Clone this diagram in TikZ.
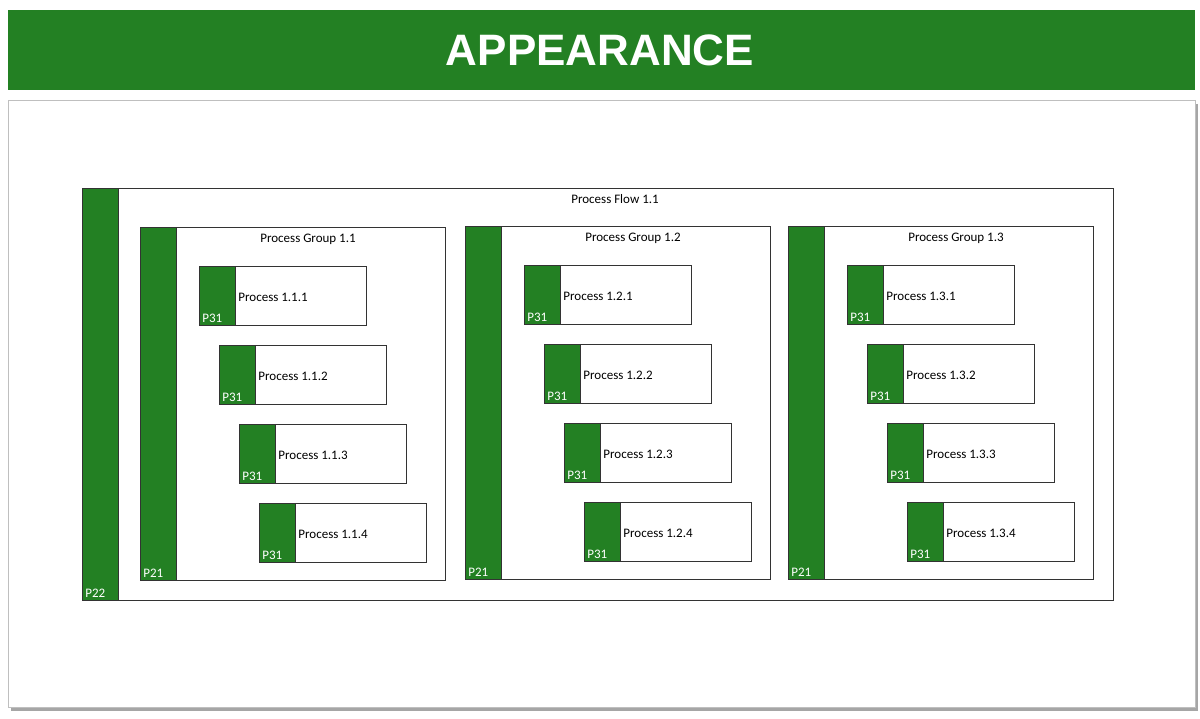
\documentclass[tikz,border=0pt]{standalone}
\usepackage{fontspec}
\setmainfont{Carlito}
\newfontfamily\titlefont{Liberation Sans}
\usetikzlibrary{positioning}
\definecolor{appgreen}{RGB}{35,128,35}
\begin{document}
\begin{tikzpicture}[x=0.5pt,y=-0.5pt,
        framebox/.style={draw=black!80, line width=0.5pt, fill=white, anchor=north west, inner sep=0pt},
        stripbox/.style={draw=black!80, line width=0.5pt, fill=appgreen, anchor=north west, inner sep=0pt, minimum width=18pt},
        tagtext/.style={text=white, font=\fontsize{6.5}{7}\selectfont, anchor=south west, inner sep=1.5pt},
        labeltext/.style={font=\fontsize{6.5}{7}\selectfont, inner sep=0pt},
        ]
        \useasboundingbox (0,0) rectangle (1200,718);
        \fill[white] (0,0) rectangle (1200,718);

        % Title bar
        \fill[appgreen] (8,10) rectangle (1195,90);
        \node[text=white, font=\titlefont\bfseries\fontsize{22}{24}\selectfont] (title) at (600,50) {APPEARANCE};

        % Panel
        \fill[black!35] (11,104) rectangle (1198,711);
        \draw[black!25, fill=white] (8,100) rectangle (1195,707);

        % Process flow
        \node[framebox, minimum width=515.5pt, minimum height=206pt] (flow) at (82,188) {};
        \node[stripbox, minimum height=206pt] (flowstrip) at (82,188) {};
        \node[tagtext] (p22) at (flowstrip.south west) {P22};
        \node[labeltext] (flowlabel) at (615,199) {Process Flow 1.1};

        % Process groups
        \foreach \g/\gx/\gy in {1/140/227, 2/465/226, 3/788/226} {
            \node[framebox, minimum width=152.5pt, minimum height=176.5pt] (group\g) at (\gx,\gy) {};
            \node[stripbox, minimum height=176.5pt] (gstrip\g) at (\gx,\gy) {};
            \node[tagtext] (p21\g) at (gstrip\g.south west) {P21};
            \node[labeltext] (glabel\g) at (\gx+168,\gy+12) {Process Group 1.\g};
            % Processes
            \foreach \p in {1,...,4} {
                \node[framebox, minimum width=83.5pt, minimum height=29.5pt] (proc\g\p) at (\gx+59+20*\p-20,\gy+39+79*\p-79) {};
                \node[stripbox, minimum height=29.5pt] (pstrip\g\p) at (proc\g\p.north west) {};
                \node[tagtext] (p31\g\p) at (pstrip\g\p.south west) {P31};
                \node[labeltext, anchor=west] (plabel\g\p) at ([xshift=1pt,yshift=-0.5pt]pstrip\g\p.east) {Process 1.\g.\p};
            }
        }
    \end{tikzpicture}
\end{document}
